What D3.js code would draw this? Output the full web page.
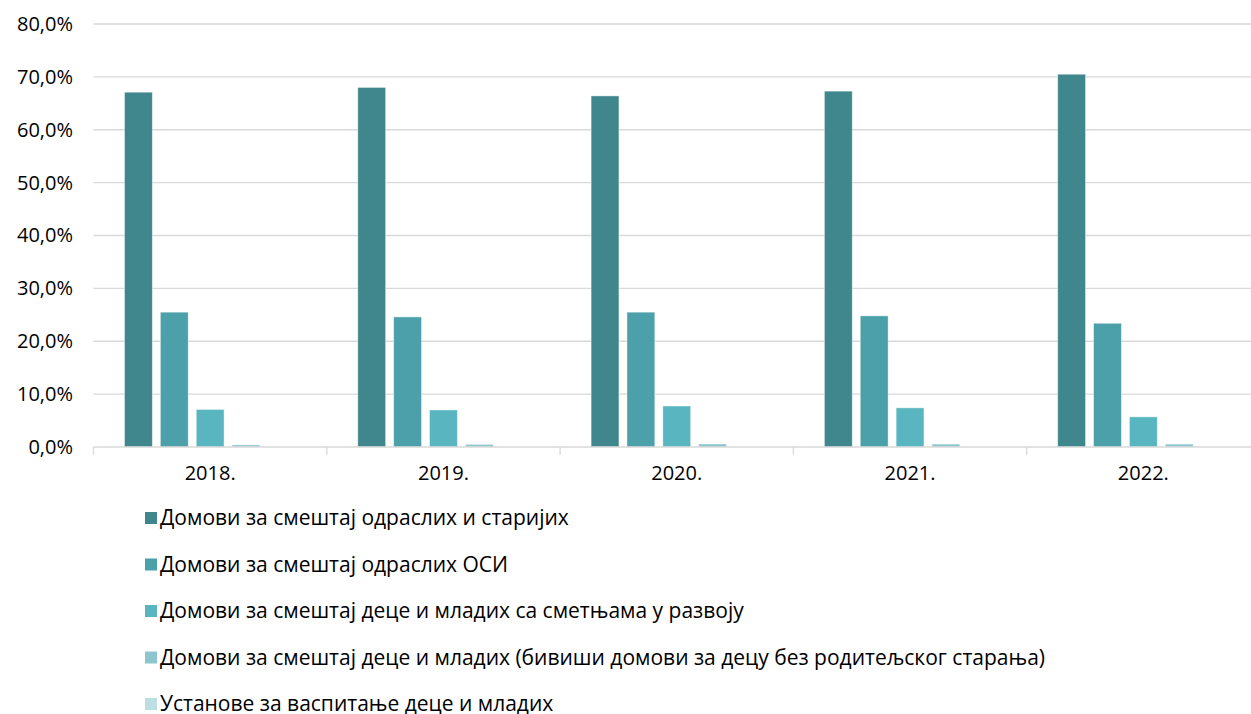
<!DOCTYPE html>
<html><head><meta charset="utf-8">
<script src="https://cdn.jsdelivr.net/npm/d3@7"></script>
<style>body{margin:0;background:#fff}svg{display:block}text{font-family:"Open Sans","Noto Sans",sans-serif;fill:#000}</style>
</head><body>
<svg id="c" width="1251" height="714"></svg>
<script>
const categories = ["2018.", "2019.", "2020.", "2021.", "2022."];
const seriesNames = [
  "Домови за смештај одраслих и старијих",
  "Домови за смештај одраслих ОСИ",
  "Домови за смештај деце и младих са сметњама у развоју",
  "Домови за смештај деце и младих (бивиши домови за децу без родитељског старања)",
  "Установе за васпитање деце и младих"
];
const s1 = [67.1, 68.0, 66.4, 67.3, 70.5];
const s2 = [25.5, 24.6, 25.5, 24.8, 23.4];
const s3 = [7.1, 7.0, 7.75, 7.4, 5.7];
const s4 = [0.4, 0.5, 0.57, 0.55, 0.55];
const s5 = [0.0, 0.0, 0.0, 0.0, 0.0];
const seriesValues = [s1, s2, s3, s4, s5];
const yTicks = [0, 10, 20, 30, 40, 50, 60, 70, 80];
const colors = ["#3f878c", "#4ba0a9", "#59b6c0", "#8cc5ce", "#bddfe3"];

const svg = d3.select("#c");
const pLeft = 93.5, pRight = 1260, pTop = 24, pBottom = 447;
const x0 = d3.scaleBand().domain(categories).range([pLeft, pRight]).padding(0);
const x1 = d3.scaleBand().domain(d3.range(5)).range([31, x0.bandwidth() - 31]).paddingInner(0.224).paddingOuter(0);
const y = d3.scaleLinear().domain([0, 80]).range([pBottom, pTop]);
const fmt = v => v.toFixed(1).replace(".", ",") + "%";

// gridlines
svg.append("g").selectAll("line").data(yTicks.filter(t => t > 0)).join("line")
  .attr("x1", pLeft).attr("x2", pRight).attr("y1", d => y(d)).attr("y2", d => y(d))
  .attr("stroke", "#d9d9d9").attr("stroke-width", 1.3);

// y labels
const yAxis = d3.axisLeft(y).tickValues(yTicks).tickFormat(fmt).tickSize(0).tickPadding(0);
const ya = svg.append("g").attr("transform", `translate(73,0)`).call(yAxis);
ya.select(".domain").remove();
ya.selectAll("text").attr("font-size", 20).attr("font-family", "'Open Sans',sans-serif").attr("fill", "#000");

// bars
const groups = svg.append("g").selectAll("g").data(categories).join("g")
  .attr("transform", d => `translate(${x0(d)},0)`);
groups.selectAll("rect").data((d, i) => seriesValues.map((s, k) => ({k, v: s[i]}))).join("rect")
  .attr("x", d => x1(d.k)).attr("width", x1.bandwidth())
  .attr("y", d => y(d.v)).attr("height", d => pBottom - y(d.v))
  .attr("fill", d => colors[d.k]).attr("stroke", "rgba(255,255,255,0.5)").attr("stroke-width", 0.8);

// x axis
const xAxis = d3.axisBottom(x0).tickSize(0).tickPadding(19);
const xa = svg.append("g").attr("transform", `translate(0,${pBottom})`).call(xAxis);
xa.select(".domain").remove();
xa.selectAll("text").attr("font-size", 20).attr("font-family", "'Open Sans',sans-serif").attr("fill", "#000");
svg.append("line").attr("x1", pLeft).attr("x2", pRight).attr("y1", pBottom).attr("y2", pBottom)
  .attr("stroke", "#d9d9d9").attr("stroke-width", 1.3);
const bounds = categories.map(c => x0(c)).concat([pRight]);
svg.append("g").selectAll("line").data(bounds).join("line")
  .attr("x1", d => d).attr("x2", d => d).attr("y1", pBottom).attr("y2", pBottom + 8)
  .attr("stroke", "#d9d9d9").attr("stroke-width", 1.3);

// legend
const lg = svg.append("g").selectAll("g").data(seriesNames).join("g")
  .attr("transform", (d, i) => `translate(145,${518 + i * 46.5})`);
lg.append("rect").attr("x", 0).attr("y", -6).attr("width", 12).attr("height", 12).attr("fill", (d, i) => colors[i]);
lg.append("text").attr("x", 15).attr("y", 0).attr("dy", "0.35em").attr("font-size", 21).text(d => d);
</script>
</body></html>
